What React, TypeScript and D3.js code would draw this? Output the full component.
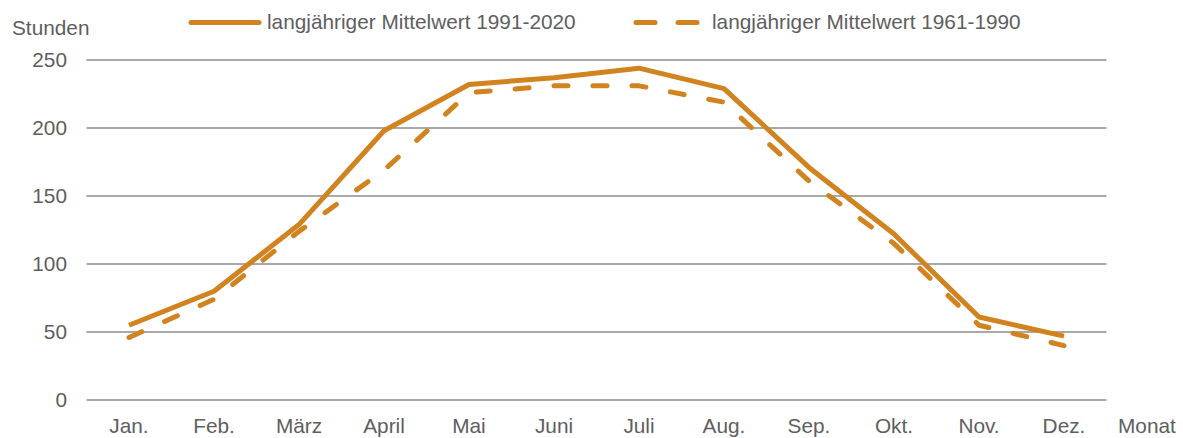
import React from "react";
import * as d3 from "d3";

const months = ["Jan.", "Feb.", "März", "April", "Mai", "Juni", "Juli", "Aug.", "Sep.", "Okt.", "Nov.", "Dez."];
const mean1991_2020 = [55, 80, 129, 198, 232, 237, 244, 229, 171, 122, 61, 47];
const mean1961_1990 = [46, 74, 124, 169, 226, 231, 231, 219, 161, 115, 55, 40];
const yTicks = [0, 50, 100, 150, 200, 250];
const seriesNames = ["langjähriger Mittelwert 1991-2020", "langjähriger Mittelwert 1961-1990"];

const W = 1183;
const H = 438;
const color = "#D0831F";
const textColor = "#5e5e5e";
const font = "'Liberation Sans', Arial, sans-serif";
const fs = 20.8;

export default function App() {
  const x = d3.scaleBand<string>().domain(months).range([86.5, 1106.5]);
  const y = d3.scaleLinear().domain([0, 250]).range([400, 60]);
  const line = d3
    .line<number>()
    .x((_, i) => (x(months[i]) as number) + x.bandwidth() / 2)
    .y((d) => y(d));

  return (
    <svg width={W} height={H} style={{ position: "absolute", left: 0, top: 0 }} fontFamily={font}>
      {yTicks.map((t) => (
        <g key={t}>
          <line x1={86.5} x2={1106.5} y1={y(t)} y2={y(t)} stroke="#8c8c8c" strokeWidth={1.5} />
          <text x={67} y={y(t)} dy="0.35em" textAnchor="end" fontSize={fs} fill={textColor}>
            {t}
          </text>
        </g>
      ))}
      {months.map((m) => (
        <text key={m} x={(x(m) as number) + x.bandwidth() / 2} y={433} textAnchor="middle" fontSize={fs} fill={textColor}>
          {m}
        </text>
      ))}
      <text x={1118} y={433} fontSize={fs} fill={textColor}>Monat</text>
      <text x={12} y={35} fontSize={fs} fill={textColor}>Stunden</text>

      <path d={line(mean1961_1990) || ""} fill="none" stroke={color} strokeWidth={5} strokeDasharray="14 25" strokeLinecap="round" strokeLinejoin="round" />
      <path d={line(mean1991_2020) || ""} fill="none" stroke={color} strokeWidth={5} strokeLinejoin="round" />

      <line x1={191} x2={259} y1={22.5} y2={22.5} stroke={color} strokeWidth={5} strokeLinecap="round" />
      <text x={267} y={29} fontSize={fs} fill={textColor}>{seriesNames[0]}</text>
      <line x1={636} x2={655} y1={22.5} y2={22.5} stroke={color} strokeWidth={5} strokeLinecap="round" />
      <line x1={678} x2={697} y1={22.5} y2={22.5} stroke={color} strokeWidth={5} strokeLinecap="round" />
      <text x={712} y={29} fontSize={fs} fill={textColor}>{seriesNames[1]}</text>
    </svg>
  );
}
